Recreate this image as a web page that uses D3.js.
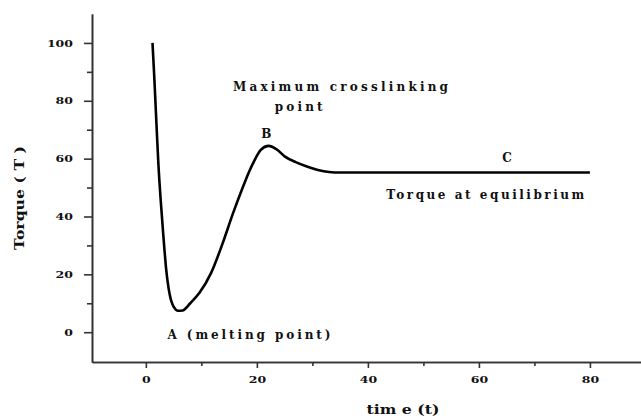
<!DOCTYPE html>
<html>
<head>
<meta charset="utf-8">
<script src="https://cdn.jsdelivr.net/npm/d3@7/dist/d3.min.js"></script>
<style>
  html, body { margin: 0; padding: 0; background: #fff; }
  svg { display: block; }
  text { font-family: "DejaVu Serif", "Liberation Serif", serif; font-weight: bold; fill: #111; }
</style>
</head>
<body>
<svg id="chart" width="641" height="418"></svg>
<script>
// Rheometer torque curve: time (t) vs torque (T)
const time   = [1.2, 1.55, 1.9, 2.25, 2.7, 3.15, 3.65, 4.3, 5.0, 5.8, 6.6, 8.0, 9.66, 11.76, 13.85, 15.65, 17.45, 18.6, 19.6, 20.7, 22.1, 23.5, 25.0, 27.0, 29.0, 31.0, 33.0, 35.0, 80.0];
const torque = [100, 87, 72.5, 58.5, 45, 33.5, 22, 13, 8.8, 7.4, 7.5, 10, 13.6, 20.5, 30.8, 40.8, 50.0, 55.5, 59.5, 63.0, 64.4, 63.3, 60.8, 58.8, 57.3, 56.1, 55.4, 55.2, 55.2];

const xMajorTicks = [0, 20, 40, 60, 80];
const xMinorTicks = [10, 30, 50, 70];
const yMajorTicks = [0, 20, 40, 60, 80, 100];
const yMinorTicks = [10, 30, 50, 70, 90];

const xTitle = "tim e (t)";
const yTitle = "Torque ( T )";

// Curve annotations
const noteText = ["Maximum crosslinking", "point", "B", "C", "Torque at equilibrium", "A  (melting point)"];

const svg = d3.select("#chart");

const x = d3.scaleLinear().domain([-9.7, 89.2]).range([92, 641]);
const y = d3.scaleLinear().domain([-10.3, 110]).range([362, 14]);

// Axes: major ticks with labels, minor ticks without
function styleAxis(g) {
  g.select(".domain").attr("stroke", "#333").attr("stroke-width", 1.6);
  g.selectAll(".tick line").attr("stroke", "#333").attr("stroke-width", 1.6);
  g.selectAll(".tick text")
    .attr("font-family", "DejaVu Serif, serif")
    .attr("font-weight", "bold")
    .attr("font-size", 10)
    .attr("fill", "#111");
}

const yAxis = svg.append("g").attr("transform", `translate(${x.range()[0]},0)`)
  .call(d3.axisLeft(y).tickValues(yMajorTicks).tickSize(8).tickPadding(11).tickSizeOuter(0))
  .call(styleAxis);
yAxis.selectAll(".tick text").attr("textLength", d => String(d).length * 8.7).attr("lengthAdjust", "spacingAndGlyphs");

svg.append("g").attr("transform", `translate(${x.range()[0]},0)`)
  .call(d3.axisLeft(y).tickValues(yMinorTicks).tickSize(5).tickFormat("").tickSizeOuter(0))
  .call(styleAxis);

const xAxis = svg.append("g").attr("transform", `translate(0,${y.range()[0]})`)
  .call(d3.axisBottom(x).tickValues(xMajorTicks).tickSize(6).tickPadding(8).tickSizeOuter(0))
  .call(styleAxis);
xAxis.selectAll(".tick text").attr("textLength", d => String(d).length * 8.7).attr("lengthAdjust", "spacingAndGlyphs");

svg.append("g").attr("transform", `translate(0,${y.range()[0]})`)
  .call(d3.axisBottom(x).tickValues(xMinorTicks).tickSize(4).tickFormat("").tickSizeOuter(0))
  .call(styleAxis);

// Torque curve
const pts = time.map((t, i) => [t, torque[i]]);
svg.append("path")
  .datum(pts)
  .attr("fill", "none")
  .attr("stroke", "#000")
  .attr("stroke-width", 2.6)
  .attr("stroke-linejoin", "round")
  .attr("d", d3.line().x(d => x(d[0])).y(d => y(d[1])).curve(d3.curveMonotoneX));

// Axis titles
svg.append("text")
  .attr("x", 403).attr("y", 414)
  .attr("text-anchor", "middle")
  .attr("font-size", 13)
  .attr("textLength", 73).attr("lengthAdjust", "spacingAndGlyphs")
  .text(xTitle);

svg.append("text")
  .attr("transform", "translate(24,198) rotate(-90)")
  .attr("text-anchor", "middle")
  .attr("font-size", 13)
  .attr("textLength", 104).attr("lengthAdjust", "spacingAndGlyphs")
  .text(yTitle);

// Annotation placement: [x, y] in data units, plus drawn width in px
const notePos = [[15.7, 83.5], [23.2, 76.3], [20.8, 67], [64.2, 58.9], [43.3, 46.2], [3.9, -2.4]];
const noteSize = [12, 12, 12, 12, 12, 12];
const noteWidth = [215, 48, 12, 9, 198, 163];

svg.selectAll("text.note")
  .data(noteText)
  .join("text")
  .attr("class", "note")
  .attr("x", (d, i) => x(notePos[i][0]))
  .attr("y", (d, i) => y(notePos[i][1]))
  .attr("font-size", (d, i) => noteSize[i])
  .attr("textLength", (d, i) => noteWidth[i])
  .attr("lengthAdjust", "spacing")
  .text(d => d);
</script>
</body>
</html>
